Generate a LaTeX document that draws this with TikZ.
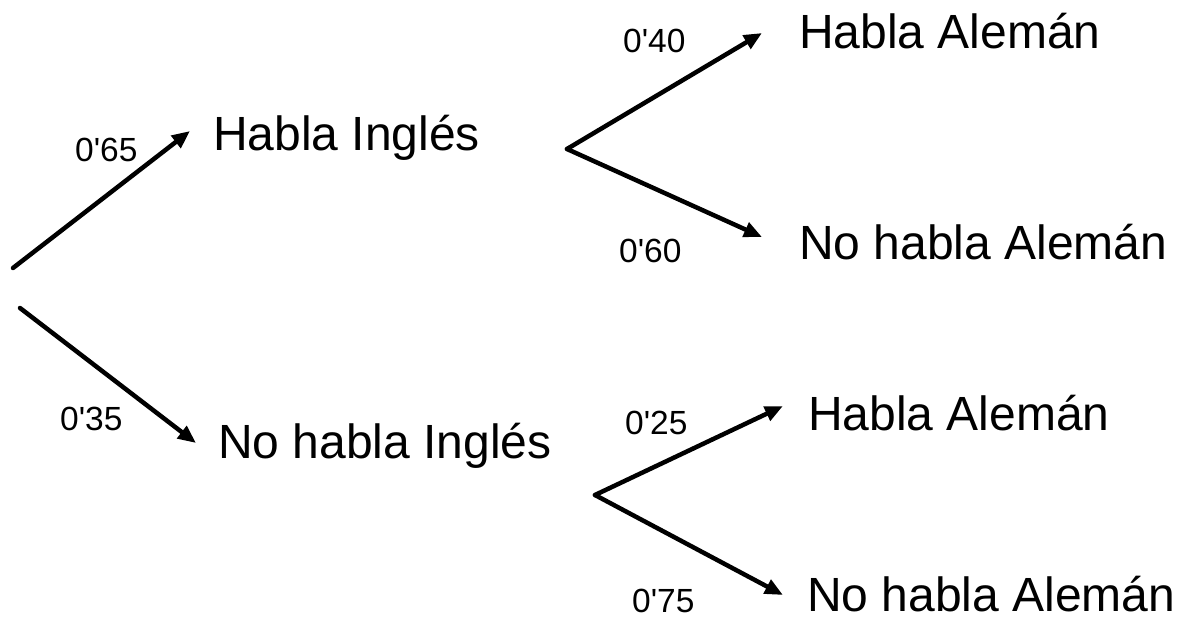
\documentclass[tikz,border=0pt]{standalone}
\usepackage{fontspec}
\setmainfont{Liberation Sans}
\usetikzlibrary{arrows.meta}
\newcommand{\ap}{\textquotesingle}
\begin{document}
\begin{tikzpicture}[x=1pt,y=-1pt,
  arr/.style={line width=4.5pt,-{Triangle[length=18pt,width=15pt]},line cap=round},
  big/.style={inner sep=0pt,anchor=base west,font=\fontsize{48}{56}\selectfont},
  prob/.style={inner sep=0pt,anchor=base west,font=\fontsize{33.5}{40}\selectfont}]
\useasboundingbox (0,0) rectangle (1181,616);
\fill[white] (0,0) rectangle (1181,616);
% text nodes
\node[big] (hi) at (213,150) {Habla Inglés};
\node[big] (nhi) at (218,458) {No habla Inglés};
\node[big] (ha1) at (799,48) {Habla Alemán};
\node[big] (nha1) at (799,259) {No habla Alemán};
\node[big] (ha2) at (808,430) {Habla Alemán};
\node[big] (nha2) at (807,611) {No habla Alemán};
% probabilities
\node[prob] (p65) at (75,161) {0\ap65};
\node[prob] (p35) at (60,430) {0\ap35};
\node[prob] (p40) at (623,52) {0\ap40};
\node[prob] (p60) at (619,262) {0\ap60};
\node[prob] (p25) at (625,434) {0\ap25};
\node[prob] (p75) at (632,612) {0\ap75};
% branch points and tips
\coordinate (r1) at (13,268);
\coordinate (r2) at (20,308);
\coordinate (b1) at (567,149);
\coordinate (b2) at (595,495);
\coordinate (thi) at (190,131);
\coordinate (tnhi) at (196,443);
\coordinate (tha1) at (762,33);
\coordinate (tnha1) at (762,237);
\coordinate (tha2) at (783,406);
\coordinate (tnha2) at (783,595);
\draw[arr] (r1) -- (thi);
\draw[arr] (r2) -- (tnhi);
\draw[arr] (b1) -- (tha1);
\draw[arr] (b1) -- (tnha1);
\draw[arr] (b2) -- (tha2);
\draw[arr] (b2) -- (tnha2);
\end{tikzpicture}
\end{document}
